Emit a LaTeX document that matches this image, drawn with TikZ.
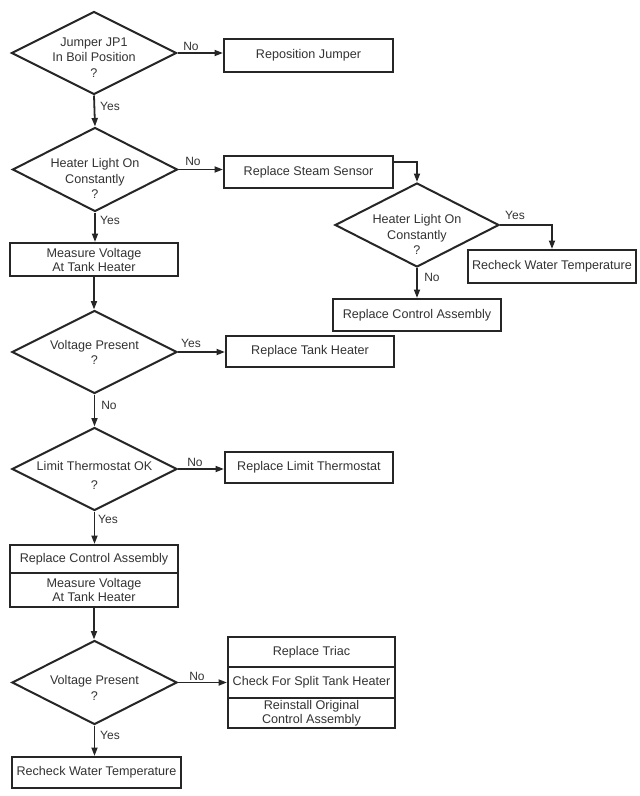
\documentclass[tikz,border=0pt]{standalone}
\usepackage{fontspec}
\setmainfont{Liberation Sans}
\usetikzlibrary{shapes.geometric,arrows.meta,calc}
\begin{document}
\begin{tikzpicture}[x=1pt,y=-1pt,
  dtxt/.style={text=black!80,font=\fontsize{12.6}{15.5}\selectfont,align=center,inner sep=0pt},
  lbl/.style={text=black!80,font=\fontsize{12}{13}\selectfont,inner sep=0pt},
  dia/.style={draw=black!85,line width=2pt,shape=diamond,minimum width=165pt,minimum height=83pt,inner sep=0pt},
  box/.style={draw=black!85,line width=2pt,rectangle,minimum width=168pt,inner sep=0pt,text=black!80,font=\fontsize{12.6}{14}\selectfont,align=center},
  conn/.style={draw=black!85,line width=1.8pt,-{Triangle[length=8.5pt,width=6pt]}}
]
\useasboundingbox[fill=white] (0,0) rectangle (640,796);

% diamonds
\node[dia] (d1) at (94,53) {};
\node[dtxt] (d1t) at (94,57.5) {Jumper JP1\\In Boil Position\\?};
\node[dia,minimum height=84pt] (d2) at (95,169.5) {};
\node[dtxt] (d2t) at (95,178.5) {Heater Light On\\Constantly\\?};
\node[dia,minimum width=164pt,minimum height=84pt] (d3) at (417,225) {};
\node[dtxt] (d3t) at (417,234.5) {Heater Light On\\Constantly\\?};
\node[dia] (d4) at (94.5,352) {};
\node[dtxt] (d4t) at (94.5,352.5) {Voltage Present\\?};
\node[dia] (d5) at (94.5,469) {};
\node[dtxt,font=\fontsize{12.6}{19}\selectfont] (d5t) at (94.5,475.5) {Limit Thermostat OK\\?};
\node[dia,minimum height=84pt] (d6) at (94.5,682.5) {};
\node[dtxt] (d6t) at (94.5,688) {Voltage Present\\?};

% boxes
\node[box,minimum width=169pt,minimum height=33pt] (b1) at (308.5,55.5) {Reposition Jumper};
\node[box,minimum width=169pt,minimum height=32pt] (b2) at (308.5,172) {Replace Steam Sensor};
\node[box,minimum height=33pt] (b3) at (94,259.5) {Measure Voltage\\At Tank Heater};
\node[box,minimum height=33pt] (b4) at (552,266.5) {Recheck Water Temperature};
\node[box,minimum height=32pt] (b5) at (417,315) {Replace Control Assembly};
\node[box,minimum height=31pt] (b6) at (310,351.5) {Replace Tank Heater};
\node[box,minimum height=31pt] (b7) at (309,467.5) {Replace Limit Thermostat};
\node[box,minimum height=28pt] (c1) at (94,559) {Replace Control Assembly};
\node[box,minimum height=34pt] (c2) at (94,590) {Measure Voltage\\At Tank Heater};
\node[box,minimum width=167pt,minimum height=30pt] (t1) at (311.5,652) {Replace Triac};
\node[box,minimum width=167pt,minimum height=31pt] (t2) at (311.5,682.5) {Check For Split Tank Heater};
\node[box,minimum width=167pt,minimum height=30pt] (t3) at (311.5,713) {Reinstall Original\\Control Assembly};
\node[box,minimum width=169pt,minimum height=31pt] (b8) at (96.5,772.5) {Recheck Water Temperature};

% connectors
\coordinate (s1) at ($(b2.north east)+(0,7)$);
\draw[conn] (d1.east) -- (b1.west |- d1.east);
\draw[conn] (d1.south) -- (d2.north);
\draw[conn] (d2.east) -- (b2.west |- d2.east);
\draw[conn] (d2.south) -- (d2.south |- b3.north);
\draw[conn] (s1) -| (d3.north);
\draw[conn] (d3.east) -| (b4.north);
\draw[conn] (d3.south) -- (d3.south |- b5.north);
\draw[conn] (b3.south) -- (b3.south |- d4.north);
\draw[conn] (d4.east) -- (b6.west |- d4.east);
\draw[conn] (d4.south) -- (d5.north);
\draw[conn] (d5.east) -- (b7.west |- d5.east);
\draw[conn] (d5.south) -- (d5.south |- c1.north);
\draw[conn] (c2.south) -- (c2.south |- d6.north);
\draw[conn] (d6.east) -- (t2.west |- d6.east);
\draw[conn] (d6.south) -- (d6.south |- b8.north);

% labels
\node[lbl] (l1n) at (191,46) {No};
\node[lbl] (l1y) at (110,106) {Yes};
\node[lbl] (l2n) at (193,161) {No};
\node[lbl] (l2y) at (110,220) {Yes};
\node[lbl] (l3y) at (515,215) {Yes};
\node[lbl] (l3n) at (432,277) {No};
\node[lbl] (l4y) at (191,343) {Yes};
\node[lbl] (l4n) at (109,405) {No};
\node[lbl] (l5n) at (195,462) {No};
\node[lbl] (l5y) at (108,519) {Yes};
\node[lbl] (l6n) at (197,676) {No};
\node[lbl] (l6y) at (110,735) {Yes};
\end{tikzpicture}
\end{document}
